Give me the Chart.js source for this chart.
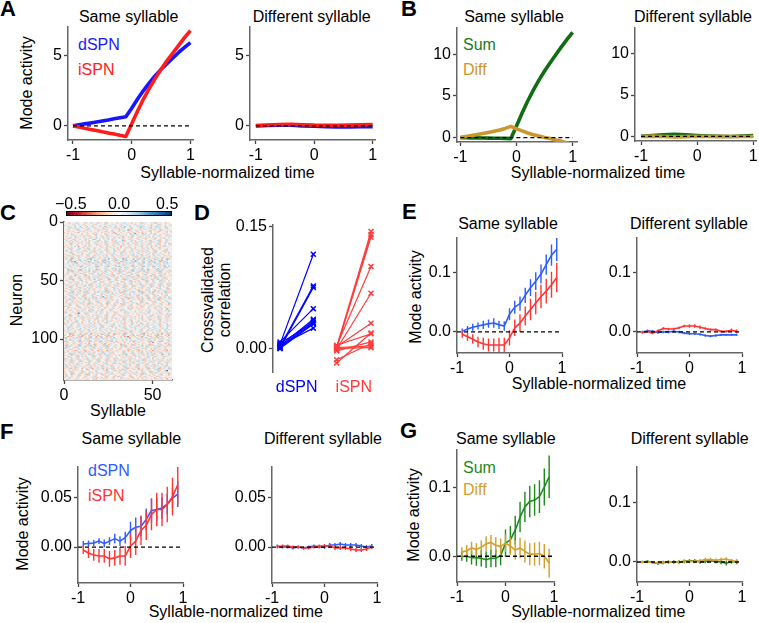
<!DOCTYPE html>
<html><head><meta charset="utf-8">
<script src="https://cdn.jsdelivr.net/npm/chart.js@4.4.1/dist/chart.umd.min.js"></script>
<style>
html,body{margin:0;padding:0;background:#fff;}
#fig{position:relative;width:759px;height:623px;overflow:hidden;background:#fff;font-family:"Liberation Sans",Arial,Helvetica,sans-serif;color:#000;}
#fig canvas{position:absolute;}
.t{position:absolute;font-size:16px;line-height:1;white-space:nowrap;transform:translate(-50%,-50%);}
.l{position:absolute;font-size:16px;line-height:1;white-space:nowrap;transform:translate(0,-50%);}
.v{position:absolute;font-size:16px;line-height:1;white-space:nowrap;transform:translate(-50%,-50%) rotate(-90deg);text-align:center;}
.p{position:absolute;font-size:22px;font-weight:bold;line-height:1;transform:translate(0,-50%);}
</style></head>
<body><div id="fig">
<div class="p" style="left:0px;top:8.5px">A</div>
<div class="p" style="left:401px;top:8.5px">B</div>
<div class="p" style="left:0px;top:212.5px">C</div>
<div class="p" style="left:194px;top:213.3px">D</div>
<div class="p" style="left:402px;top:211.7px">E</div>
<div class="p" style="left:0px;top:431.7px">F</div>
<div class="p" style="left:400px;top:431px">G</div>

<div class="t" style="left:128.7px;top:16.7px">Same syllable</div>
<div class="t" style="left:311.7px;top:16.7px">Different syllable</div>
<div class="t" style="left:514px;top:16.7px">Same syllable</div>
<div class="t" style="left:693px;top:16.7px">Different syllable</div>
<div class="t" style="left:508px;top:223.8px">Same syllable</div>
<div class="t" style="left:689px;top:223.8px">Different syllable</div>
<div class="t" style="left:131.3px;top:439.2px">Same syllable</div>
<div class="t" style="left:323px;top:439.2px">Different syllable</div>
<div class="t" style="left:505.8px;top:439.2px">Same syllable</div>
<div class="t" style="left:689.7px;top:439.2px">Different syllable</div>

<div class="t" style="left:227.5px;top:172.5px">Syllable-normalized time</div>
<div class="t" style="left:598px;top:172.5px">Syllable-normalized time</div>
<div class="t" style="left:599px;top:384.2px">Syllable-normalized time</div>
<div class="t" style="left:235.8px;top:612px">Syllable-normalized time</div>
<div class="t" style="left:598.3px;top:612px">Syllable-normalized time</div>
<div class="t" style="left:118px;top:410.8px">Syllable</div>

<div class="v" style="left:26.5px;top:83.3px">Mode activity</div>
<div class="v" style="left:416px;top:296.7px">Mode activity</div>
<div class="v" style="left:22.5px;top:524px">Mode activity</div>
<div class="v" style="left:414.2px;top:515px">Mode activity</div>
<div class="v" style="left:17.2px;top:300px">Neuron</div>
<div class="v" style="left:215.6px;top:300px;line-height:17px">Crossvalidated<br>correlation</div>

<div class="l" style="left:78px;top:45.3px;color:#1a1aff">dSPN</div>
<div class="l" style="left:78px;top:69.5px;color:#ff2020">iSPN</div>
<div class="l" style="left:463px;top:45px;color:#1a7a1a">Sum</div>
<div class="l" style="left:463px;top:69.5px;color:#c9982c">Diff</div>
<div class="l" style="left:88px;top:470.8px;color:#2f5cff">dSPN</div>
<div class="l" style="left:88px;top:495.8px;color:#ff3535">iSPN</div>
<div class="l" style="left:463px;top:467.5px;color:#1b8a1b">Sum</div>
<div class="l" style="left:463px;top:489.5px;color:#d39f2b">Diff</div>
</div>
<script>
// ---------------- DATA ----------------
const T21 = [-1,-0.9,-0.8,-0.7,-0.6,-0.5,-0.4,-0.3,-0.2,-0.1,0,0.1,0.2,0.3,0.4,0.5,0.6,0.7,0.8,0.9,1];
const T11 = [-1,-0.8,-0.6,-0.4,-0.2,0,0.2,0.4,0.6,0.8,1];
const T19 = [-0.9,-0.8,-0.7,-0.6,-0.5,-0.4,-0.3,-0.2,-0.1,0,0.1,0.2,0.3,0.4,0.5,0.6,0.7,0.8,0.9];
const TIME_TICKS = [-1,0,1];

const A_SAME_DSPN = [0,0.07,0.14,0.21,0.28,0.35,0.42,0.5,0.57,0.64,1.25,1.9,2.5,3.05,3.55,4.0,4.4,4.8,5.2,5.55,5.9];
const A_SAME_ISPN = [0,-0.08,-0.17,-0.25,-0.33,-0.42,-0.5,-0.58,-0.67,-0.75,0.15,1.05,1.9,2.65,3.35,4.0,4.6,5.15,5.7,6.25,6.75];
const A_DIFF_DSPN = [0,0.03,0.05,0.04,0.0,-0.03,-0.06,-0.08,-0.07,-0.06,-0.05];
const A_DIFF_ISPN = [0.02,0.06,0.1,0.12,0.08,0.05,0.04,0.04,0.05,0.07,0.1];
const A_YTICKS = [0,5];

const B_SAME_SUM = [0,-0.01,-0.03,-0.04,-0.05,-0.07,-0.08,-0.08,-0.1,-0.12,1.4,2.95,4.4,5.7,6.9,8.0,9.0,9.95,10.9,11.8,12.65];
const B_SAME_DIFF = [0,0.12,0.25,0.38,0.5,0.62,0.75,0.9,1.1,1.35,1.05,0.8,0.55,0.35,0.18,0.02,-0.12,-0.28,-0.45,-0.65,-0.85];
const B_DIFF_SUM = [0.02,0.1,0.2,0.25,0.2,0.12,0.06,0.02,0.0,0.04,0.1];
const B_DIFF_DIFF = [0,0.04,0.0,-0.05,-0.02,0.02,0.0,-0.02,0.0,0.0,0.0];
const B_YTICKS = [0,5,10];

const D_GROUPS = ['dSPN','iSPN'];
const D_DSPN_PRE  = [0.005,0.002,0.000,0.008,0.003,0.001,0.006,0.000,0.004,0.002];
const D_DSPN_POST = [0.116,0.077,0.075,0.049,0.036,0.034,0.032,0.030,0.025,0.031];
const D_ISPN_PRE  = [0.002,0.000,0.001,0.003,-0.001,0.002,-0.018,-0.014,0.004,-0.003,0.001,0.000];
const D_ISPN_POST = [0.144,0.140,0.137,0.101,0.068,0.031,0.019,0.006,0.018,0.008,0.003,0.001];
const D_YTICKS = [0,0.15];

const E_SAME_DSPN = [0.001,0.005,0.008,0.010,0.012,0.014,0.015,0.012,0.010,0.030,0.042,0.048,0.062,0.075,0.086,0.098,0.114,0.130,0.140];
const E_SAME_DSPN_ERR = [0.005,0.005,0.006,0.006,0.007,0.007,0.008,0.007,0.008,0.010,0.011,0.012,0.013,0.014,0.015,0.016,0.017,0.018,0.020];
const E_SAME_ISPN = [-0.004,-0.008,-0.012,-0.017,-0.020,-0.022,-0.022,-0.022,-0.022,-0.010,0.007,0.015,0.027,0.038,0.049,0.060,0.069,0.080,0.092];
const E_SAME_ISPN_ERR = [0.006,0.007,0.008,0.009,0.010,0.011,0.011,0.012,0.012,0.013,0.014,0.015,0.016,0.018,0.019,0.020,0.021,0.022,0.025];
const E_DIFF_DSPN = [0.000,0.002,0.001,-0.001,0.000,0.000,0.001,0.000,-0.002,-0.003,-0.003,-0.004,-0.006,-0.007,-0.006,-0.005,-0.005,-0.005,-0.005];
const E_DIFF_DSPN_ERR = [0.002,0.002,0.002,0.002,0.002,0.002,0.002,0.002,0.002,0.002,0.002,0.002,0.002,0.002,0.002,0.002,0.002,0.002,0.002];
const E_DIFF_ISPN = [-0.001,0.001,-0.002,0.002,0.006,0.005,0.005,0.007,0.010,0.010,0.010,0.008,0.006,0.004,0.004,0.001,0.001,0.003,0.001];
const E_DIFF_ISPN_ERR = [0.002,0.002,0.002,0.002,0.002,0.002,0.002,0.002,0.002,0.003,0.003,0.003,0.002,0.002,0.002,0.002,0.002,0.003,0.003];
const E_YTICKS = [0,0.1];

const F_SAME_DSPN = [0.003,0.0036,0.004,0.006,0.0036,0.006,0.0085,0.006,0.0095,0.0167,0.020,0.021,0.028,0.037,0.038,0.0395,0.0435,0.0495,0.0536];
const F_SAME_DSPN_ERR = [0.003,0.003,0.003,0.003,0.004,0.004,0.005,0.005,0.006,0.009,0.010,0.010,0.011,0.012,0.012,0.011,0.010,0.010,0.013];
const F_SAME_ISPN = [-0.003,-0.006,-0.008,-0.009,-0.009,-0.012,-0.011,-0.009,-0.009,0.001,0.006,0.017,0.022,0.033,0.038,0.038,0.043,0.051,0.063];
const F_SAME_ISPN_ERR = [0.004,0.005,0.006,0.007,0.007,0.008,0.008,0.009,0.010,0.012,0.014,0.015,0.015,0.016,0.017,0.017,0.018,0.019,0.020];
const F_DIFF_DSPN = [0.001,0.000,0.000,-0.001,0.000,-0.001,0.000,0.001,0.000,0.000,0.002,0.002,0.003,0.002,0.002,0.002,0.001,0.000,0.001];
const F_DIFF_DSPN_ERR = [0.0015,0.0015,0.0015,0.0015,0.0015,0.0015,0.0015,0.0015,0.0015,0.002,0.002,0.002,0.002,0.002,0.002,0.002,0.002,0.002,0.002];
const F_DIFF_ISPN = [0.000,0.001,0.001,0.000,0.000,-0.001,-0.001,0.000,0.001,0.001,0.001,-0.001,-0.001,-0.001,-0.002,-0.003,-0.003,-0.002,0.000];
const F_DIFF_ISPN_ERR = [0.0015,0.0015,0.0015,0.0015,0.0015,0.0015,0.0015,0.0015,0.0015,0.002,0.002,0.002,0.002,0.002,0.002,0.002,0.002,0.002,0.002];
const F_YTICKS = [0,0.05];

const G_SAME_SUM = [-0.0005,0.0,-0.002,-0.002,-0.003,-0.005,-0.003,-0.003,0.001,0.019,0.024,0.038,0.057,0.072,0.080,0.082,0.087,0.101,0.116];
const G_SAME_SUM_ERR = [0.006,0.008,0.010,0.012,0.012,0.012,0.013,0.013,0.014,0.020,0.020,0.021,0.022,0.022,0.023,0.023,0.024,0.027,0.031];
const G_SAME_DIFF = [0.006,0.008,0.012,0.010,0.013,0.018,0.020,0.016,0.014,0.019,0.015,0.009,0.012,0.007,0.003,0.003,0.004,0.000,-0.010];
const G_SAME_DIFF_ERR = [0.007,0.008,0.009,0.009,0.010,0.011,0.011,0.012,0.012,0.013,0.013,0.014,0.015,0.016,0.016,0.017,0.017,0.018,0.021];
const G_DIFF_SUM = [0.000,0.001,-0.001,-0.002,-0.001,0.000,0.000,0.000,0.001,0.002,0.002,0.000,0.001,0.002,0.001,0.000,-0.002,0.001,0.000];
const G_DIFF_SUM_ERR = [0.002,0.002,0.002,0.003,0.003,0.003,0.003,0.003,0.003,0.003,0.003,0.003,0.003,0.003,0.003,0.004,0.004,0.004,0.004];
const G_DIFF_DIFF = [0.000,0.000,-0.001,-0.002,-0.001,0.000,0.000,0.000,0.001,0.001,0.001,0.002,0.004,0.004,0.003,0.004,0.005,0.002,0.001];
const G_DIFF_DIFF_ERR = [0.002,0.002,0.002,0.002,0.002,0.002,0.002,0.002,0.002,0.003,0.003,0.003,0.003,0.003,0.003,0.003,0.003,0.003,0.003];
const G_YTICKS = [0,0.1];

const C_XTICKS = [0,50];
const C_YTICKS = [0,50,100];
const CBAR_TICKS = [-0.5,0,0.5];
// heatmap levels, one character per cell (neuron rows x syllable columns)
const LEVEL = {'0':-0.4,'1':-0.3,'2':-0.22,'3':-0.15,'4':-0.07,'5':0,'6':0.07,'7':0.15,'8':0.22,'9':0.3,'a':0.4};
const HEAT_ROWS = [
"4563546745 5436574563 4657345654 3546756435 6453746556 4735645364 5",
"5644536574 6354456375 4563654746 5436574564 3657546453 6547365446 4",
"3454643545 4635443564 4354634543 5463544354 6435345463 4543645354 3",
"6576457658 5647567465 7568457657 4675865746 5768475657 6485756746 5",
"4563747564 3574656345 6475346573 5647356475 4563756473 5647465735 6",
"5436564735 6453745636 4573645465 3746554376 5463574653 4765345674 5",
"4653546374 5637456453 7465354746 5364759345 7463546574 6354736456 4",
"5474635567 4356475463 5647354765 4357654635 4765356473 5647356475 3",
"3546453625 4643545364 5344635426 4535463453 6435346453 5463544635 4",
"6475765645 7564657476 5657465768 4657565746 9565847567 4765657465 6",
"4565374656 3547465375 6453746556 3745635476 5346475635 4765345673 5",
"5346457463 5746345675 4365746354 6573465437 5646357465 3547645365 7",
"4456357464 5356474635 4675364574 6352657436 5473654635 7465346547 4",
"5637456345 6475346576 4536475634 5764356475 6345637456 4735647356 5",
"3465437543 5436453265 3546435746 4543654364 5476453546 4354365436 4",
"5746357465 4635746547 3657465347 6548365476 3546754637 4567345674 6",
"4536475364 7546356473 5647365473 5746356475 3647563547 6354765345 5",
"6453746536 4576354765 4357465364 7563547653 4765346573 5647354763 4",
"4657345765 3546745637 4563746574 3657463546 7453645736 5467354657 3",
"5364756435 6475346574 6354765346 5746354765 4365746357 4635746354 6",
"3546457625 4635364545 3645734536 4526453645 3547354653 4635463746 4",
"6475346574 6357465346 5746357465 3475634765 3465746357 4653746546 5",
"4563745673 5647354765 3546745635 7465364576 3546475364 7546354675 4",
"5746356475 4635746357 4657346574 6354765436 5746357465 3746546375 6",
"4365746356 4736547365 4765346573 5647354676 4536475365 4735647364 5",
"5647365476 3546475365 7465346575 4637465346 5746357464 6375465347 4",
"6546375465 7465746576 5746576475 6576475657 4675646575 7465764657 5",
"4356473546 3547645364 7546354763 5476354673 5647354765 3647563546 4",
"5473645736 4657354763 5476354765 3647563547 6354763546 4756354763 5",
"3645374536 4536452645 3546754635 4635463546 3746354625 4635463545 3",
"5764836475 4657384756 3647586437 5648376457 4637584756 3647586473 6",
"4357264537 5463725463 5473625437 6452735462 5374625436 5274635427 4",
"6547365748 5736475846 5738465748 3657486475 8365746758 4657386475 5",
"4536271546 3547265437 4526374536 4527364537 2645374526 3745263745 4",
"5675467856 4765748657 4768574657 3856475867 5476385674 6857467586 6",
"3546475364 5637465374 6354763546 4753647563 5476354763 5476354765 4",
"5463574635 7465346574 6354675437 5643765437 6547365436 7546347653 5",
"4657465748 3657465738 4657384657 3846574638 5746385746 3857463857 6",
"3465346453 4675464536 4546354536 4635263546 3546754645 3645364736 4",
"5674657465 7465746576 4657465847 5746574657 6475865746 5748657465 5",
"4527364531 6475354627 3546735462 4375364527 6453746235 4637524653 4",
"6574836475 7564857364 6758463576 4867356478 5637485764 6573846576 7",
"5436475364 5736453746 5634754365 4736547365 4735463745 6354735463 5",
"4635463547 3645736453 4763546354 7364536475 3645364753 6453746354 4",
"5746547365 4736547657 4365746375 4657365476 5346573645 7365476354 6",
"3546352463 5426354635 2463543625 4635462354 6325463542 6354263546 3",
"6457364576 5746357647 5634765746 3576475637 4675365746 5376475364 5",
"4563754637 4563745367 4356374563 7453647536 4753647356 4736547365 4",
"5647385463 6475364856 3746583647 4563874653 7465836457 3648576435 6",
"4365436547 3546435647 3546436547 3645364735 4635463745 3645736453 5",
"5463574365 7436546375 4736543765 4573654736 7436547365 3456743654 4",
"6546756475 6547564765 7465647564 7564756475 6457564756 4756475647 5",
"3546453746 3546473546 3547463546 3745364735 4637453647 3546374536 3",
"5736475364 6475836475 7536475634 7563746537 4653746537 6453764537 6",
"4653746354 6375463547 6354763547 6354736547 3654736547 3654763547 4",
"5647365473 4657436574 3657465374 6547364576 4536745763 4576354674 5",
"4365746357 4635746354 6457364576 3546475364 7546354675 4563745673 4",
"6547463576 5746357465 4657364576 5746357465 4736547365 4765346573 5",
"3654735462 4537465346 3547263546 4356274536 4527354635 4263547365 3",
"5746385746 5837465748 5637485746 5738465748 6574836574 8657465837 6",
"4563746573 5647354765 4365746357 4635746354 6457364576 3546475364 4",
"5436574365 4736547365 4763546375 4653746357 4635746354 7364536475 5",
"6453746354 6375463547 6354763547 5436574365 4736547365 4763546375 4",
"4756375465 3746547365 4795463745 6354735463 5746354765 4365746357 5",
"3546472536 4625367425 3647253645 5536472736 4625364725 3647253647 3",
"5768475657 6485756746 5647567465 7568457657 4675865746 5768475657 6",
"4635746354 6457364576 3546475364 7546354675 4563745673 5647354765 4",
"5346475635 4765345673 5465374656 3547465375 6453746556 3745635476 5",
"6354763547 6354736547 3654736547 3654763547 4653746354 6375463547 6",
"4537465346 3547263546 4356274536 4527354635 4263547365 3654735462 4",
"5647354765 4357654635 4765356473 5647356475 5474635567 4356475463 5",
"3746554376 5463574653 4765345674 5436564735 6453745636 4573645465 4",
"6573465437 5646357465 3547645365 5346457463 5746345675 4365746354 6",
"4535463453 6435346453 5463544635 3546453625 4643545364 5344635426 4",
"5764356475 6345637456 4735647356 5637456345 6475346576 4536475634 5",
"4657565746 7565847567 4765657465 6475765645 7564657476 5657465768 6",
"3745635476 5346475635 4765345673 4565374656 3547465375 6453746556 5",
"6354657406 5473654635 7465346547 4456357464 5356474635 4675364574 4",
"4543654364 5436453546 4354365436 3465436543 5436453465 3546435436 3",
"6548365476 3546754637 4567345674 5746357465 4635746547 3657465347 6",
"5746356475 3647563547 6354765345 4536475364 7546356473 5647365473 5",
"7563547653 4765346573 5647354763 6453746536 4576354765 4357465364 4",
"3657463546 7453645736 5467354657 4657345765 3546745637 4563746574 5",
"5746354765 4365746357 4635746354 5364756435 6475346574 6354765346 6",
"4536453745 3546354653 4635763546 3546354625 4635463545 3645364536 4",
"3475634765 3465746357 4653746546 6475346574 6357465346 5746357465 5",
"7465364576 3546475364 7546354675 4563745673 5647354765 3546745635 4",
"6354765436 5746357465 3746546375 5746356475 4635746357 4657346574 6",
"5647354676 4536475365 4735647364 4365746356 4736547365 4765346573 5",
"4637465346 5746357464 6375465347 5647365476 3546475365 7465346575 4",
"6576475657 4675646575 7465764657 6546375465 7465746576 5746576475 5",
"5476354673 5647354765 3647563546 4356473546 3547645364 7546354763 4",
"3647563547 6354763546 4756354763 5473645736 4657354763 5476354765 5",
"4635463546 3546754635 4635463545 3645364736 4536453645 3546354635 3",
"5648376457 4637584756 3647586473 5764836475 4657384756 3647586437 6",
"6452735462 5374625436 5274635427 4357264537 5463725463 5473625437 4",
"3657486475 8365746758 4657386475 6547365748 5736475846 5738465748 5",
"4527364537 2645374526 3745263745 4536271546 3547265437 4526374536 4",
"3856475867 5476385674 6857467586 5675467856 4765748657 4768574657 6",
"4753647563 5476354763 5476354765 3546475364 5637465374 6354763546 4",
"5643765437 6547365436 7546347653 5463574635 7465346574 6354675437 5",
"3846574638 5746385746 3857463857 4657465748 3657465738 4657384657 6",
"4635463546 3546354645 3645364536 3465346453 4635464536 1546354536 4",
"5746574657 6475865746 5748657465 5674657465 7465746576 4657465847 5",
"4375364527 6453746235 4637524653 4527364532 6475354627 3546735462 4",
"4867356478 5637485764 6573846576 6574836475 7564857364 6758463576 7",
"4736547365 4735463745 6354735463 5436475364 5736453746 5634754365 5",
"7364536475 3645364753 6453746354 4635463547 3645736453 4763546354 4",
"4657365476 5346573645 7365476354 5746547365 4736547657 4365746375 6",
"4635462354 6325463542 6354263546 3546352463 5426354635 2463543625 3",
"3576475637 4675365746 5376475364 6457364576 5746357647 5634765746 5",
"7453647536 4753647356 4736547365 4563754637 4563745367 4356374563 4",
"4563874653 7465836457 3648576435 5647385463 6475364856 3746583647 6",
"3645364735 4635463745 3645736453 4365436547 3546435647 3546436547 5",
"4573654736 7436547365 3456743654 5463574365 7436546375 4736543765 4",
"7564756475 6457564756 4756475647 6546756475 6547564765 7465647564 5",
"3745364735 4637453647 3546374536 3546453746 3546473546 3547463546 3",
"7563746537 4653746537 6453764537 5736475364 6475836475 7536475634 6",
"6354736547 3654736547 3654763547 4653746354 6375463547 6354763547 4",
"6547364576 4536745763 4576354674 5647365473 4657436574 3657465374 5",
"3546475364 7546354675 4563745673 4365746357 4635746354 6457364576 4",
"4763546375 4653746357 4635746354 5436574365 4736547365 7364536475 5",
"6354763547 5436574365 4736547365 6453746354 6375463547 4763546375 4",
"4735463745 6354735463 5746354765 4756375465 3746547365 4365746357 5",
"3647253645 2536472536 4625367425 3546472536 4625364725 3647253647 3",
"5647567465 7568457657 4675865746 5768475657 6485756746 5768475657 6",
"3546475364 7546354675 4563745673 4635746354 6457364576 56473547a5 4",
"6453746556 3745635476 5465374656 5346475635 4765345673 3547465375 5",
"3654736547 3654763547 4653746354 6354763547 6354736547 6375463547 6",
"4356274536 4527354635 4263547365 4537465346 3547263546 3654735462 4",
"4765356473 5647356475 5474635567 5647354765 4357654635 4356475463 5",
"4765345674 5436564735 6453745636 3746554376 5463574653 4573645465 4",
"3547645365 5346457463 5746345675 6573465437 5646357465 4365746354 6",
"5463544635 3546453625 4643545364 4535463453 6435346453 5344635426 4",
"4735647356 5637456345 6475346576 5764356475 6345637456 4536475634 5"
];

// ---------------- STYLE ----------------
const FONT = '"Liberation Sans", Arial, Helvetica, sans-serif';
Chart.defaults.font.family = FONT;
Chart.defaults.font.size = 16;
Chart.defaults.color = '#000';
const YW = 60, PT = 16, PR = 12, XH = 30;
const SPINE = '#666', TICKC = '#444';
const BLUE_A = '#1515ff', RED_A = '#ff1c1c';
const GREEN_B = '#0f6e12', GOLD_B = '#c9982c';
const BLUE_E = '#2f5cff', RED_E = '#ff3535';
const GREEN_G = '#1b8a1b', GOLD_G = '#d39f2b';
const BLUE_D = '#0000ff', RED_D = '#ff3b3b';
const RDBU = ['#67001f','#b2182b','#d6604d','#f4a582','#fddbc7','#f7f7f7','#d1e5f0','#92c5de','#4393c3','#2166ac','#053061'];
const VMIN = -0.55, VMAX = 0.55;

function hex(h){return [parseInt(h.slice(1,3),16),parseInt(h.slice(3,5),16),parseInt(h.slice(5,7),16)];}
function cmap(v){
  let t = (v - VMIN) / (VMAX - VMIN); t = Math.max(0, Math.min(1, t)) * (RDBU.length - 1);
  const i = Math.min(Math.floor(t), RDBU.length - 2), f = t - i;
  const a = hex(RDBU[i]), b = hex(RDBU[i+1]);
  return 'rgb(' + a.map((x,k)=>Math.round(x + (b[k]-x)*f)).join(',') + ')';
}

function addCanvas(L, T, R, B) {
  const c = document.createElement('canvas');
  const w = R - L + YW + PR, h = B - T + PT + XH;
  c.width = w; c.height = h;
  c.style.left = (L - YW) + 'px'; c.style.top = (T - PT) + 'px';
  c.style.width = w + 'px'; c.style.height = h + 'px';
  document.getElementById('fig').appendChild(c);
  return c;
}

function axis(which, min, max, ticks, fmt, extra) {
  const o = {
    type: 'linear', min: min, max: max,
    afterFit: s => { if (which === 'x') s.height = XH; else s.width = YW; },
    afterBuildTicks: s => { s.ticks = ticks.map(v => ({ value: v })); },
    ticks: { color: '#000', font: { family: FONT, size: 16 }, padding: 2, autoSkip: false, maxRotation: 0, minRotation: 0, callback: (v, i) => fmt(v, i) },
    grid: { display: true, drawOnChartArea: false, drawTicks: true, tickLength: 4, tickColor: TICKC, tickWidth: 1.3 },
    border: { display: true, color: SPINE, width: 1.5 }
  };
  if (extra) {
    for (const k in extra) {
      if (typeof extra[k] === 'object' && !Array.isArray(extra[k]) && o[k]) Object.assign(o[k], extra[k]);
      else o[k] = extra[k];
    }
  }
  return o;
}

function baseOptions(scales) {
  return {
    responsive: false, animation: false, devicePixelRatio: 1, events: [],
    layout: { padding: { left: 0, right: PR, top: PT, bottom: 0 } },
    plugins: { legend: { display: false }, tooltip: { enabled: false } },
    elements: { point: { radius: 0 }, line: { tension: 0 } },
    scales: scales
  };
}

function lineDs(xs, ys, color, width) {
  return { type: 'line', data: xs.map((x, i) => ({ x: x, y: ys[i] })), borderColor: color, backgroundColor: color,
    borderWidth: width, pointRadius: 0, fill: false, borderJoinStyle: 'round' };
}
function errDs(xs, m, e, color, width) {
  const d = [];
  xs.forEach((x, i) => { d.push({ x: x, y: m[i] - e[i] }, { x: x, y: m[i] + e[i] }, { x: x, y: null }); });
  return { type: 'line', data: d, borderColor: color, borderWidth: width, pointRadius: 0, fill: false, spanGaps: false };
}
function zeroDs() {
  return { type: 'line', data: [{ x: -1, y: 0 }, { x: 1, y: 0 }], borderColor: '#000', borderWidth: 1.3, borderDash: [4, 3], pointRadius: 0, fill: false };
}

const intFmt = v => String(v);
const fmt1 = v => v.toFixed(1);
const fmt2 = v => v.toFixed(2);

function timePanel(L, T, R, B, xmin, xmax, ymin, ymax, yticks, yfmt, series) {
  const c = addCanvas(L, T, R, B);
  const ds = [zeroDs()];
  for (let k = series.length - 1; k >= 0; k--) {
    const s = series[k];
    ds.push(lineDs(s.x, s.y, s.c, s.w));
    if (s.e) ds.push(errDs(s.x, s.y, s.e, s.c, 1.4));
  }
  new Chart(c, { type: 'line', data: { datasets: ds },
    options: baseOptions({ x: axis('x', xmin, xmax, TIME_TICKS, intFmt), y: axis('y', ymin, ymax, yticks, yfmt) }) });
}

// ---------------- PANEL A ----------------
timePanel(68, 27, 193, 140, -1.085, 1.044, -1, 7, A_YTICKS, intFmt, [
  { x: T21, y: A_SAME_DSPN, c: BLUE_A, w: 3.6 }, { x: T21, y: A_SAME_ISPN, c: RED_A, w: 3.6 }]);
timePanel(250, 27, 375, 140, -1.10, 1.04, -1, 7, A_YTICKS, intFmt, [
  { x: T11, y: A_DIFF_DSPN, c: BLUE_A, w: 3.6 }, { x: T11, y: A_DIFF_ISPN, c: RED_A, w: 3.6 }]);
// ---------------- PANEL B ----------------
timePanel(457, 28, 577, 142, -1.06, 1.078, -0.53, 13.17, B_YTICKS, intFmt, [
  { x: T21, y: B_SAME_SUM, c: GREEN_B, w: 3.6 }, { x: T21, y: B_SAME_DIFF, c: GOLD_B, w: 3.6 }]);
timePanel(635, 28, 756, 141, -1.107, 1.05, -0.55, 13.1, B_YTICKS, intFmt, [
  { x: T11, y: B_DIFF_SUM, c: GREEN_B, w: 3.6 }, { x: T11, y: B_DIFF_DIFF, c: GOLD_B, w: 3.6 }]);
// ---------------- PANEL E ----------------
timePanel(457, 238, 562, 353, -1, 1, -0.0356, 0.159, E_YTICKS, fmt1, [
  { x: T19, y: E_SAME_DSPN, e: E_SAME_DSPN_ERR, c: BLUE_E, w: 1.6 }, { x: T19, y: E_SAME_ISPN, e: E_SAME_ISPN_ERR, c: RED_E, w: 1.6 }]);
timePanel(637, 238, 742, 353, -1, 1, -0.0356, 0.159, E_YTICKS, fmt1, [
  { x: T19, y: E_DIFF_DSPN, e: E_DIFF_DSPN_ERR, c: BLUE_E, w: 1.6 }, { x: T19, y: E_DIFF_ISPN, e: E_DIFF_ISPN_ERR, c: RED_E, w: 1.6 }]);
// ---------------- PANEL F ----------------
timePanel(78, 467, 183, 583, -1, 1, -0.0364, 0.081, F_YTICKS, fmt2, [
  { x: T19, y: F_SAME_DSPN, e: F_SAME_DSPN_ERR, c: BLUE_E, w: 1.6 }, { x: T19, y: F_SAME_ISPN, e: F_SAME_ISPN_ERR, c: RED_E, w: 1.6 }]);
timePanel(272, 467, 377, 583, -1, 1, -0.0364, 0.081, F_YTICKS, fmt2, [
  { x: T19, y: F_DIFF_DSPN, e: F_DIFF_DSPN_ERR, c: BLUE_E, w: 1.6 }, { x: T19, y: F_DIFF_ISPN, e: F_DIFF_ISPN_ERR, c: RED_E, w: 1.6 }]);
// ---------------- PANEL G ----------------
timePanel(457, 450, 554, 582, -1, 1, -0.0376, 0.155, G_YTICKS, fmt1, [
  { x: T19, y: G_SAME_SUM, e: G_SAME_SUM_ERR, c: GREEN_G, w: 1.6 }, { x: T19, y: G_SAME_DIFF, e: G_SAME_DIFF_ERR, c: GOLD_G, w: 1.6 }]);
timePanel(637, 467, 742, 582, -1, 1, -0.0337, 0.16, G_YTICKS, fmt1, [
  { x: T19, y: G_DIFF_SUM, e: G_DIFF_SUM_ERR, c: GREEN_G, w: 1.6 }, { x: T19, y: G_DIFF_DIFF, e: G_DIFF_DIFF_ERR, c: GOLD_G, w: 1.6 }]);

// ---------------- PANEL D ----------------
(function () {
  const D_POS = [[0, 1], [1.7, 2.73]];
  const c = addCanvas(273, 225, 380, 372);
  const ds = [];
  const pairs = [[D_ISPN_PRE, D_ISPN_POST, RED_D, D_POS[1]], [D_DSPN_PRE, D_DSPN_POST, BLUE_D, D_POS[0]]];
  pairs.forEach(([pre, post, col, pos]) => {
    pre.forEach((v, i) => {
      ds.push({ type: 'line', data: [{ x: pos[0], y: v }, { x: pos[1], y: post[i] }], borderColor: col, borderWidth: 1.2,
        pointStyle: 'crossRot', pointRadius: 3.5, pointBorderColor: col, pointBackgroundColor: col, pointBorderWidth: 1.5, fill: false });
    });
  });
  const centers = D_POS.map(p => (p[0] + p[1]) / 2);
  new Chart(c, { type: 'line', data: { datasets: ds },
    options: baseOptions({
      x: axis('x', -0.21, 3.0, centers, (v, i) => D_GROUPS[i], {
        ticks: { padding: 6, color: ctx => (ctx.index === 0 ? BLUE_D : RED_D) },
        grid: { display: false, drawTicks: false }, border: { display: false } }),
      y: axis('y', -0.029, 0.152, D_YTICKS, fmt2)
    }) });
})();

// ---------------- PANEL C (heatmap) ----------------
(function () {
  const c = addCanvas(64, 222, 172, 380);
  const rows = HEAT_ROWS.map(r => r.replace(/\s/g, '').split(''));
  const ncol = rows[0].length;
  const datasets = rows.map((cells, r) => ({
    type: 'bar',
    data: cells.map((ch, ci) => ({ x: ci + 0.5, y: [r, r + 1] })),
    backgroundColor: cells.map(ch => cmap(LEVEL[ch])),
    borderWidth: 0, grouped: false, barPercentage: 1, categoryPercentage: 1, inflateAmount: 0.45
  }));
  new Chart(c, { type: 'bar', data: { datasets: datasets },
    options: baseOptions({
      x: axis('x', 0, ncol, C_XTICKS, intFmt, { offset: false, grid: { offset: false } }),
      y: axis('y', 0, rows.length, C_YTICKS, intFmt, { reverse: true })
    }) });
})();

// ---------------- colorbar ----------------
(function () {
  const c = document.createElement('canvas');
  const w = 166, h = 30;
  c.width = w; c.height = h;
  c.style.left = '36px'; c.style.top = '190px'; c.style.width = w + 'px'; c.style.height = h + 'px';
  document.getElementById('fig').appendChild(c);
  const cbar = {
    id: 'cbar',
    beforeDraw(chart) {
      const a = chart.chartArea, ctx = chart.ctx, xs = chart.scales.x;
      const g = ctx.createLinearGradient(a.left, 0, a.right, 0);
      RDBU.forEach((col, i) => g.addColorStop(i / (RDBU.length - 1), col));
      ctx.save();
      ctx.fillStyle = g;
      ctx.fillRect(xs.getPixelForValue(VMIN), a.top, xs.getPixelForValue(VMAX) - xs.getPixelForValue(VMIN), a.bottom - a.top);
      ctx.strokeStyle = '#000'; ctx.lineWidth = 1;
      ctx.strokeRect(a.left + 0.5, a.top + 0.5, a.right - a.left - 1, a.bottom - a.top - 1);
      ctx.restore();
    }
  };
  new Chart(c, { type: 'line', data: { datasets: [] }, plugins: [cbar],
    options: {
      responsive: false, animation: false, devicePixelRatio: 1, events: [],
      layout: { padding: { left: 30, right: 30, top: 0, bottom: 4 } },
      plugins: { legend: { display: false }, tooltip: { enabled: false } },
      scales: {
        x: { type: 'linear', position: 'top', min: VMIN, max: VMAX,
          afterFit: s => { s.height = 21; },
          afterBuildTicks: s => { s.ticks = CBAR_TICKS.map(v => ({ value: v })); },
          ticks: { color: '#000', font: { family: FONT, size: 16 }, padding: -3, autoSkip: false, maxRotation: 0,
            callback: v => (v < 0 ? '\u2212' : '') + Math.abs(v).toFixed(1) },
          grid: { display: false, drawTicks: false }, border: { display: false } },
        y: { display: false, min: 0, max: 1 }
      }
    } });
})();
</script>
</body></html>
